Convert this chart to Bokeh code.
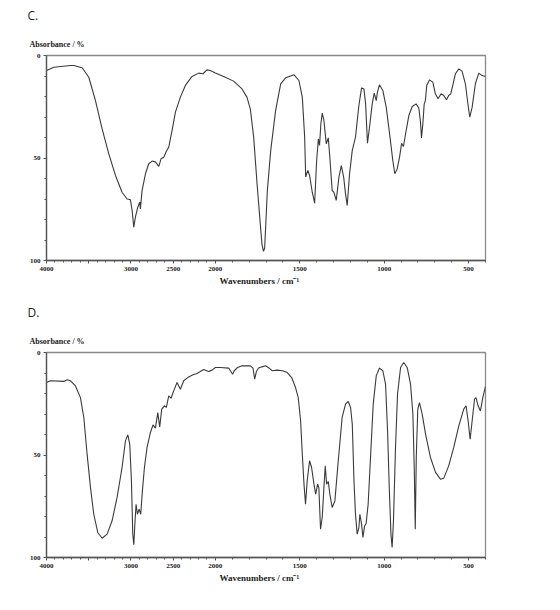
from bokeh.plotting import figure
from bokeh.layouts import column
from bokeh.models import Range1d, FixedTicker, Title, ColumnDataSource
from bokeh.embed import file_html
from bokeh.resources import INLINE

# ---------------- data (wavenumber cm-1, absorbance %) ----------------
c_wn = [4000, 3913, 3716, 3677, 3578, 3499, 3420, 3341, 3262, 3183, 3105, 3045, 3006, 2986,
        2966, 2947, 2919, 2895, 2888, 2868, 2828, 2789, 2749, 2710, 2670, 2643, 2611, 2580,
        2552, 2513, 2473, 2414, 2355, 2276, 2197, 2146, 2099, 2059, 2000, 1951, 1892, 1842,
        1813, 1793, 1773, 1753, 1734, 1724, 1715, 1708, 1692, 1672, 1643, 1613, 1584, 1534,
        1505, 1485, 1471, 1465, 1459, 1452, 1442, 1426, 1412, 1400, 1390, 1383, 1375, 1367,
        1357, 1343, 1331, 1322, 1308, 1298, 1284, 1268, 1254, 1240, 1229, 1219, 1205, 1189,
        1170, 1150, 1134, 1120, 1110, 1099, 1087, 1071, 1059, 1047, 1040, 1028, 1008, 988,
        968, 949, 937, 923, 909, 897, 886, 870, 854, 834, 811, 795, 785, 779, 771, 763, 756,
        748, 732, 712, 697, 681, 663, 647, 631, 618, 606, 594, 578, 558, 539, 519, 503, 493,
        479, 460, 440, 420, 400]
c_abs = [7.3, 5.7, 4.9, 4.9, 6.0, 10.6, 22, 35.8, 48, 58.5, 66.7, 70, 70.4, 75.6,
         83.7, 78.9, 74, 71.5, 74.8, 65.9, 57.7, 52.8, 51.5, 51.9, 54.1, 50.4, 49.6, 46.7,
         44.7, 36.6, 27.6, 20.3, 14.6, 10.2, 8.6, 8.9, 7.0, 7.3, 8.5, 10.2, 12.5, 16.3,
         20.3, 26, 39.8, 62.6, 82, 92, 95.5, 94, 65.9, 46.3, 26.8, 13.8, 10.9, 9.4,
         12.2, 20.3, 39.8, 59.3, 57.7, 56.1, 58.5, 66.7, 72, 51.2, 40.7, 43.9, 33.3, 28.1,
         31.7, 43.1, 40.2, 49.6, 65.9, 66.7, 70.7, 59.3, 53.7, 59.3, 67.5, 73.2, 57.7, 46.3,
         39.8, 24.4, 15.8, 16.3, 23.6, 42.8, 35, 23.6, 18.4, 22, 17.9, 14.3, 17.1, 25.2,
         38.2, 51.2, 57.7, 55.3, 49.6, 42.8, 44.4, 36.6, 29.3, 24.9, 23.6, 25.6, 32.5, 40.2, 33.3, 23.6, 22,
         14.6, 11.9, 13, 18.7, 21.1, 18.7, 19.5, 21.6, 19.5, 18.7, 14.6, 8.9, 6.5, 7.6, 13.8, 24.4, 30.1,
         25.2, 13.8, 8.6, 9.8, 10.2]

d_wn = [4000, 3953, 3795, 3755, 3716, 3657, 3598, 3558, 3519, 3479, 3440, 3393, 3341, 3282,
        3223, 3164, 3105, 3065, 3037, 3014, 2994, 2978, 2966, 2951, 2939, 2923, 2903, 2884,
        2864, 2840, 2809, 2769, 2738, 2710, 2682, 2659, 2635, 2604, 2580, 2552, 2525, 2493,
        2454, 2414, 2375, 2316, 2264, 2217, 2178, 2138, 2079, 2039, 2000, 1970, 1921, 1908,
        1898, 1888, 1868, 1842, 1793, 1777, 1767, 1757, 1744, 1724, 1702, 1682, 1663, 1633,
        1603, 1574, 1548, 1525, 1509, 1495, 1485, 1475, 1466, 1456, 1442, 1430, 1416, 1406,
        1394, 1387, 1377, 1367, 1357, 1349, 1341, 1331, 1322, 1308, 1292, 1272, 1249, 1229,
        1213, 1199, 1189, 1179, 1170, 1160, 1150, 1144, 1134, 1126, 1116, 1107, 1095, 1081,
        1065, 1047, 1028, 1008, 992, 980, 970, 960, 953, 945, 933, 921, 903, 884, 864, 844,
        830, 822, 816, 810, 801, 791, 775, 755, 726, 696, 667, 647, 618, 588, 558, 529, 515,
        503, 491, 479, 465, 456, 444, 430, 416, 400]
d_abs = [14.6, 13.8, 14.1, 13.3, 13.8, 16.3, 22, 31.7, 49.6, 65.9, 78.9, 87.8, 90.6, 88.6,
         82.1, 70.7, 56.1, 43.1, 40.2, 44.7, 62.6, 88.6, 93.8, 82.1, 74, 78.9, 76.4, 78.9,
         67.5, 56.1, 46.3, 39, 35.3, 36.9, 29.3, 36.3, 27.6, 26, 26.8, 21.1, 22.3, 18.7,
         14.6, 17.9, 13.8, 11.9, 10.9, 10.2, 9.3, 8.3, 9.3, 8.6, 7.3, 7.3, 7.6, 9.3,
         10.6, 8.9, 7.3, 6.5, 6.5, 7.6, 13, 9.3, 7.6, 7.0, 6.5, 7.6, 8.9, 8.6,
         8.9, 9.8, 12.2, 17.1, 22, 33.3, 49.6, 64.2, 74, 62.6, 52.8, 56.1, 64.2, 69.1,
         64.2, 65.9, 86.2, 80.5, 65.9, 55.3, 64.2, 62.9, 69.1, 75.6, 72.4, 52.8, 31.7, 25.2,
         23.9, 26.8, 35, 62.6, 78.9, 88.6, 85.4, 78.9, 83.7, 90.2, 84.6, 83.4, 74, 51.2,
         25.2, 11.4, 7.6, 8.9, 15.4, 38.2, 65.9, 88.6, 95.1, 82.1, 46.3, 20.3, 7.3, 4.9, 7.3, 15.4,
         30.1, 56.1, 86.2, 51.2, 27.6, 24.4, 30.1, 39.8, 51.2, 58.5, 61.8, 61.3, 55.3, 46.3, 35.8, 27.6, 26,
         33.3, 42.3, 33.3, 22.8, 22, 26, 28.5, 22, 16.5]

x_major = [4000, 3500, 3000, 2500, 2000, 1500, 1000, 500]
x_major_labels = ["4000", "", "3000", "2500", "2000", "1500", "1000", "500"]
x_minor = [w for w in range(3900, 399, -100) if w not in x_major]
y_major = [0, 50, 100]
y_minor = [10, 20, 30, 40, 60, 70, 80, 90]


def to_axis(w):
    """Instrument-style axis: 4000-2000 compressed 2x relative to 2000-400."""
    return (4000 - w) / 2.0 if w >= 2000 else 1000 + (2000 - w)


SERIF = "Liberation Serif"


def make_panel(letter, wn, ab, height, bottom):
    p = figure(width=560, height=height, output_backend="svg", toolbar_location=None,
               title=None,
               x_range=Range1d(to_axis(4000), to_axis(400)), y_range=Range1d(100, 0),
               min_border_left=46, min_border_right=75, min_border_top=55,
               min_border_bottom=bottom)
    p.grid.visible = False
    p.outline_line_color = "#8a8a8a"
    p.outline_line_width = 1.3
    p.background_fill_color = "white"
    p.border_fill_color = "white"

    src = ColumnDataSource(dict(x=[to_axis(w) for w in wn], y=ab))
    p.line("x", "y", source=src, line_color="#3a3a3a", line_width=1.1)

    xa = p.xaxis[0]
    xa.ticker = FixedTicker(ticks=[to_axis(w) for w in x_major],
                            minor_ticks=[to_axis(w) for w in x_minor])
    xa.major_label_overrides = {to_axis(w): s for w, s in zip(x_major, x_major_labels)}
    ya = p.yaxis[0]
    ya.ticker = FixedTicker(ticks=y_major, minor_ticks=y_minor)
    for ax in (xa, ya):
        ax.axis_line_color = "#555555"
        ax.axis_line_width = 1.3
        ax.major_tick_line_color = "#555555"
        ax.minor_tick_line_color = "#555555"
        ax.major_tick_in = 0
        ax.major_tick_out = 3
        ax.minor_tick_in = 0
        ax.minor_tick_out = 2
        ax.major_label_text_font = SERIF
        ax.major_label_text_font_style = "bold"
        ax.major_label_text_font_size = "7px"
        ax.major_label_text_color = "#222222"
        ax.major_label_standoff = 3

    p.add_layout(Title(text="Absorbance / %", align="left", offset=-17, standoff=13,
                       vertical_align="bottom",
                       text_font=SERIF, text_font_style="bold", text_font_size="8px",
                       text_color="#222222"), "above")
    p.add_layout(Title(text=letter + ".", align="left", offset=-19, standoff=11,
                       vertical_align="top",
                       text_font="Open Sans", text_font_style="normal", text_font_size="12px",
                       text_color="#222222"), "above")
    p.add_layout(Title(text="Wavenumbers / cm\u207b\u00b9", align="left", offset=173, standoff=0,
                       text_font=SERIF, text_font_style="bold", text_font_size="9px",
                       text_color="#222222"), "below")
    return p


pc = make_panel("C", c_wn, c_abs, 297, 37)
pd_ = make_panel("D", d_wn, d_abs, 313, 53)

layout = column(pc, pd_, spacing=0)
open("out.html", "w").write(file_html(layout, INLINE))
